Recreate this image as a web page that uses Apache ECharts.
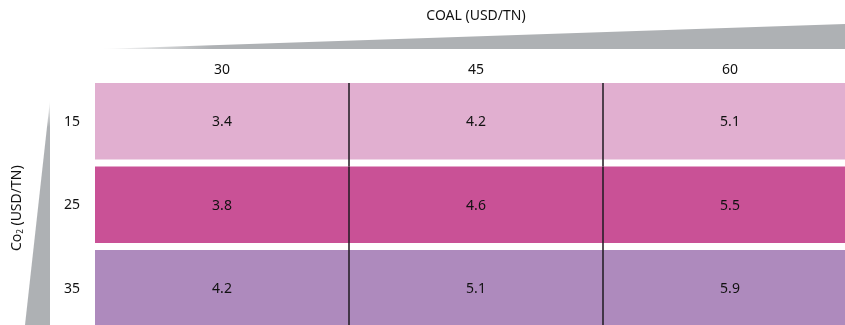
<!DOCTYPE html>
<html>
<head>
<meta charset="utf-8">
<script src="https://cdn.jsdelivr.net/npm/echarts@6/dist/echarts.min.js"></script>
<style>html,body{margin:0;padding:0;background:#fff;}#c{width:845px;height:325px;}</style>
</head>
<body>
<div id="c"></div>
<script>
const coalPrices = ['30', '45', '60'];
const co2Prices = ['15', '25', '35'];
const row15 = [3.4, 4.2, 5.1];
const row25 = [3.8, 4.6, 5.5];
const row35 = [4.2, 5.1, 5.9];
const rowColors = ['#e1afd0', '#c95196', '#ae8abd'];

const rows = [row15, row25, row35];
const data = [];
rows.forEach((r, ri) => r.forEach((v, ci) => data.push([ci, ri, v])));

const FONT = '"Noto Sans", sans-serif';
const GAP = 7;

const chart = echarts.init(document.getElementById('c'), null, {renderer: 'canvas'});
chart.setOption({
  animation: false,
  backgroundColor: '#fff',
  grid: {left: 95, top: 83, width: 762, height: 250.5, containLabel: false, outerBoundsMode: 'none'},
  xAxis: {
    type: 'category', data: coalPrices, position: 'top',
    name: 'COAL (USD/TN)', nameLocation: 'middle', nameGap: 60,
    nameTextStyle: {fontFamily: FONT, fontSize: 14, color: '#111'},
    axisLine: {show: false}, axisTick: {show: false}, splitLine: {show: false},
    axisLabel: {margin: 6, fontFamily: FONT, fontSize: 14, color: '#111'}
  },
  yAxis: {
    type: 'category', data: co2Prices, inverse: true,
    name: 'Co{sub|2} (USD/TN)', nameLocation: 'middle', nameGap: 70, nameRotate: 90,
    nameTextStyle: {fontFamily: FONT, fontSize: 14, color: '#111',
      rich: {sub: {fontFamily: FONT, fontSize: 8, color: '#111', verticalAlign: 'bottom', padding: [7, 0, 0, 0]}}},
    axisLine: {show: false}, axisTick: {show: false}, splitLine: {show: false},
    axisLabel: {margin: 15, fontFamily: FONT, fontSize: 14, color: '#111',
      formatter: function (v) { return '{a|' + v + '}'; },
      rich: {a: {fontFamily: FONT, fontSize: 14, color: '#111', padding: [0, 0, 6, 0]}}}
  },
  graphic: [
    {type: 'polygon', silent: true, z: -1,
      shape: {points: [[100, 49], [845, 24], [845, 49]]},
      style: {fill: {type: 'linear', x: 0, y: 0, x2: 1, y2: 0,
        colorStops: [{offset: 0, color: '#ffffff'}, {offset: 0.15, color: '#aeb1b4'}, {offset: 1, color: '#aeb1b4'}]}}},
    {type: 'polygon', silent: true, z: -1,
      shape: {points: [[50, 100], [50, 325], [25, 325]]},
      style: {fill: {type: 'linear', x: 0, y: 0, x2: 0, y2: 1,
        colorStops: [{offset: 0, color: '#ffffff'}, {offset: 0.12, color: '#aeb1b4'}, {offset: 1, color: '#aeb1b4'}]}}}
  ],
  series: [{
    type: 'custom',
    data: data,
    renderItem: function (params, api) {
      const col = api.value(0), row = api.value(1), val = api.value(2);
      const p = api.coord([col, row]);
      const s = api.size([1, 1]);
      const x0 = p[0] - s[0] / 2, y0 = p[1] - s[1] / 2;
      const h = s[1] - GAP;
      const children = [
        {type: 'rect', shape: {x: x0, y: y0, width: s[0] + 0.5, height: h},
          style: {fill: rowColors[row]}},
        {type: 'text', style: {text: val.toFixed(1), x: p[0], y: y0 + h / 2 + 1,
          align: 'center', verticalAlign: 'middle', fill: '#111', font: '14px ' + FONT}}
      ];
      if (col > 0) {
        children.push({type: 'line', shape: {x1: x0, y1: y0, x2: x0, y2: y0 + s[1]},
          style: {stroke: '#1e1a20', lineWidth: 1.5}});
      }
      return {type: 'group', children: children};
    }
  }]
});
</script>
</body>
</html>
